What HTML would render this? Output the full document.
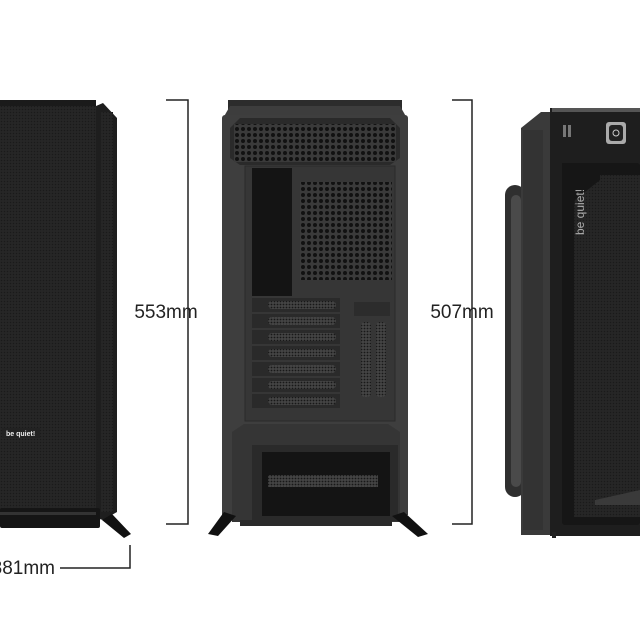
<!DOCTYPE html>
<html><head><style>
html,body{margin:0;padding:0;background:#fff;}
svg{display:block}
text{font-family:"Liberation Sans",sans-serif;}
</style></head><body>
<svg width="640" height="640" viewBox="0 0 640 640" xmlns="http://www.w3.org/2000/svg">
<defs>
<pattern id="mesh" width="3" height="3" patternUnits="userSpaceOnUse">
<rect width="3" height="3" fill="#262626"/><circle cx="1.5" cy="1.5" r="0.8" fill="#1a1a1a"/>
</pattern>
<pattern id="hex" width="6" height="6" patternUnits="userSpaceOnUse">
<rect width="6" height="6" fill="#3a3a3a"/><circle cx="3" cy="3" r="2" fill="#111"/>
</pattern>
<pattern id="slot" width="3" height="3" patternUnits="userSpaceOnUse">
<rect width="3" height="3" fill="#444"/><circle cx="1.5" cy="1.5" r="0.9" fill="#181818"/>
</pattern>
</defs>

<!-- LEFT CASE -->
<rect x="0" y="100" width="96" height="412" fill="url(#mesh)"/>
<rect x="0" y="100" width="96" height="6" fill="#1a1a1a"/>
<polygon points="96,106 103,103 117,118 117,512 103,520 96,518" fill="#1e1e1e"/>
<rect x="101" y="112" width="12" height="400" fill="url(#mesh)"/>
<rect x="0" y="508" width="100" height="20" fill="#151515" rx="2"/>
<rect x="0" y="512" width="96" height="3" fill="#333"/>
<rect x="2" y="428" width="38" height="10" fill="#222"/>
<text x="6" y="436" font-size="7" fill="#eee" font-weight="bold">be quiet!</text>
<polygon points="102,520 112,514 131,534 124,538" fill="#111"/>
<!-- 81mm dim -->
<polyline points="60,568 130,568 130,545" fill="none" stroke="#222" stroke-width="1.5"/>
<text x="55" y="574" font-size="19" fill="#222" text-anchor="end">381mm</text>

<!-- 553 dim -->
<polyline points="166,100 188,100 188,524 166,524" fill="none" stroke="#222" stroke-width="1.5"/>
<text x="166" y="318" font-size="19" fill="#222" text-anchor="middle">553mm</text>

<!-- BACK CASE -->
<rect x="228" y="100" width="174" height="14" fill="#2c2c2c"/>
<polygon points="222,120 230,106 400,106 408,120 408,515 222,515" fill="#3d3d3d"/>
<rect x="222" y="115" width="186" height="400" fill="#3e3e3e" rx="3"/>
<polygon points="230,128 240,118 390,118 400,128 400,158 390,165 240,165 230,158" fill="#2a2a2a"/>
<rect x="234" y="124" width="162" height="38" fill="url(#hex)"/>
<rect x="245" y="166" width="150" height="255" fill="#363636" stroke="#2a2a2a"/>
<rect x="252" y="168" width="40" height="128" fill="#141414"/>
<rect x="300" y="182" width="92" height="98" fill="url(#hex)"/>
<g fill="#2a2a2a">
<rect x="252" y="298" width="88" height="14" /><rect x="252" y="314" width="88" height="14"/>
<rect x="252" y="330" width="88" height="14"/><rect x="252" y="346" width="88" height="14"/>
<rect x="252" y="362" width="88" height="14"/><rect x="252" y="378" width="88" height="14"/>
<rect x="252" y="394" width="88" height="14"/>
</g>
<g fill="url(#slot)">
<rect x="268" y="301" width="68" height="8" rx="4"/><rect x="268" y="317" width="68" height="8" rx="4"/>
<rect x="268" y="333" width="68" height="8" rx="4"/><rect x="268" y="349" width="68" height="8" rx="4"/>
<rect x="268" y="365" width="68" height="8" rx="4"/><rect x="268" y="381" width="68" height="8" rx="4"/>
<rect x="268" y="397" width="68" height="8" rx="4"/>
</g>
<rect x="354" y="302" width="36" height="14" fill="#2c2c2c"/>
<rect x="361" y="322" width="10" height="75" fill="url(#slot)" rx="4"/>
<rect x="376" y="322" width="10" height="75" fill="url(#slot)" rx="4"/>
<polygon points="232,432 244,424 388,424 400,432 400,522 232,522" fill="#353535"/>
<rect x="252" y="445" width="146" height="76" fill="#2a2a2a"/>
<rect x="262" y="452" width="128" height="64" fill="#141414"/>
<rect x="268" y="475" width="110" height="12" fill="url(#slot)"/>
<rect x="240" y="520" width="152" height="6" fill="#2a2a2a"/>
<polygon points="224,512 236,516 218,536 208,534" fill="#111"/>
<polygon points="392,516 404,512 428,534 418,537" fill="#111"/>

<!-- 507 dim -->
<polyline points="452,100 472,100 472,524 452,524" fill="none" stroke="#222" stroke-width="1.5"/>
<text x="462" y="318" font-size="19" fill="#222" text-anchor="middle">507mm</text>

<!-- RIGHT CASE -->
<rect x="505" y="185" width="20" height="312" rx="10" fill="#2f2f2f"/>
<rect x="511" y="195" width="10" height="292" rx="5" fill="#4a4a4a"/>
<polygon points="521,128 541,112 552,112 552,535 521,535" fill="#3a3a3a"/>
<rect x="523" y="130" width="20" height="400" fill="#333"/>
<rect x="550" y="108" width="90" height="428" fill="#1e1e1e"/>
<rect x="552" y="108" width="88" height="4" fill="#555"/>
<rect x="563" y="125" width="3" height="12" fill="#777"/><rect x="568" y="125" width="3" height="12" fill="#777"/>
<rect x="606" y="122" width="20" height="22" rx="3" fill="#aaa"/>
<rect x="609" y="125" width="14" height="16" rx="3" fill="#222"/>
<circle cx="616" cy="133" r="3" fill="none" stroke="#ccc" stroke-width="1"/>
<rect x="562" y="163" width="78" height="362" rx="3" fill="#161616"/>
<rect x="574" y="175" width="66" height="342" fill="url(#mesh)"/>
<polygon points="562,163 600,163 600,180 575,200 562,245" fill="#161616"/>
<text transform="translate(584,235) rotate(-90)" font-size="12" fill="#aaa">be quiet!</text>
<polygon points="595,500 640,490 640,505 595,505" fill="#3a3a3a"/>
<rect x="552" y="532" width="4" height="6" fill="#222"/>
</svg>
</body></html>
